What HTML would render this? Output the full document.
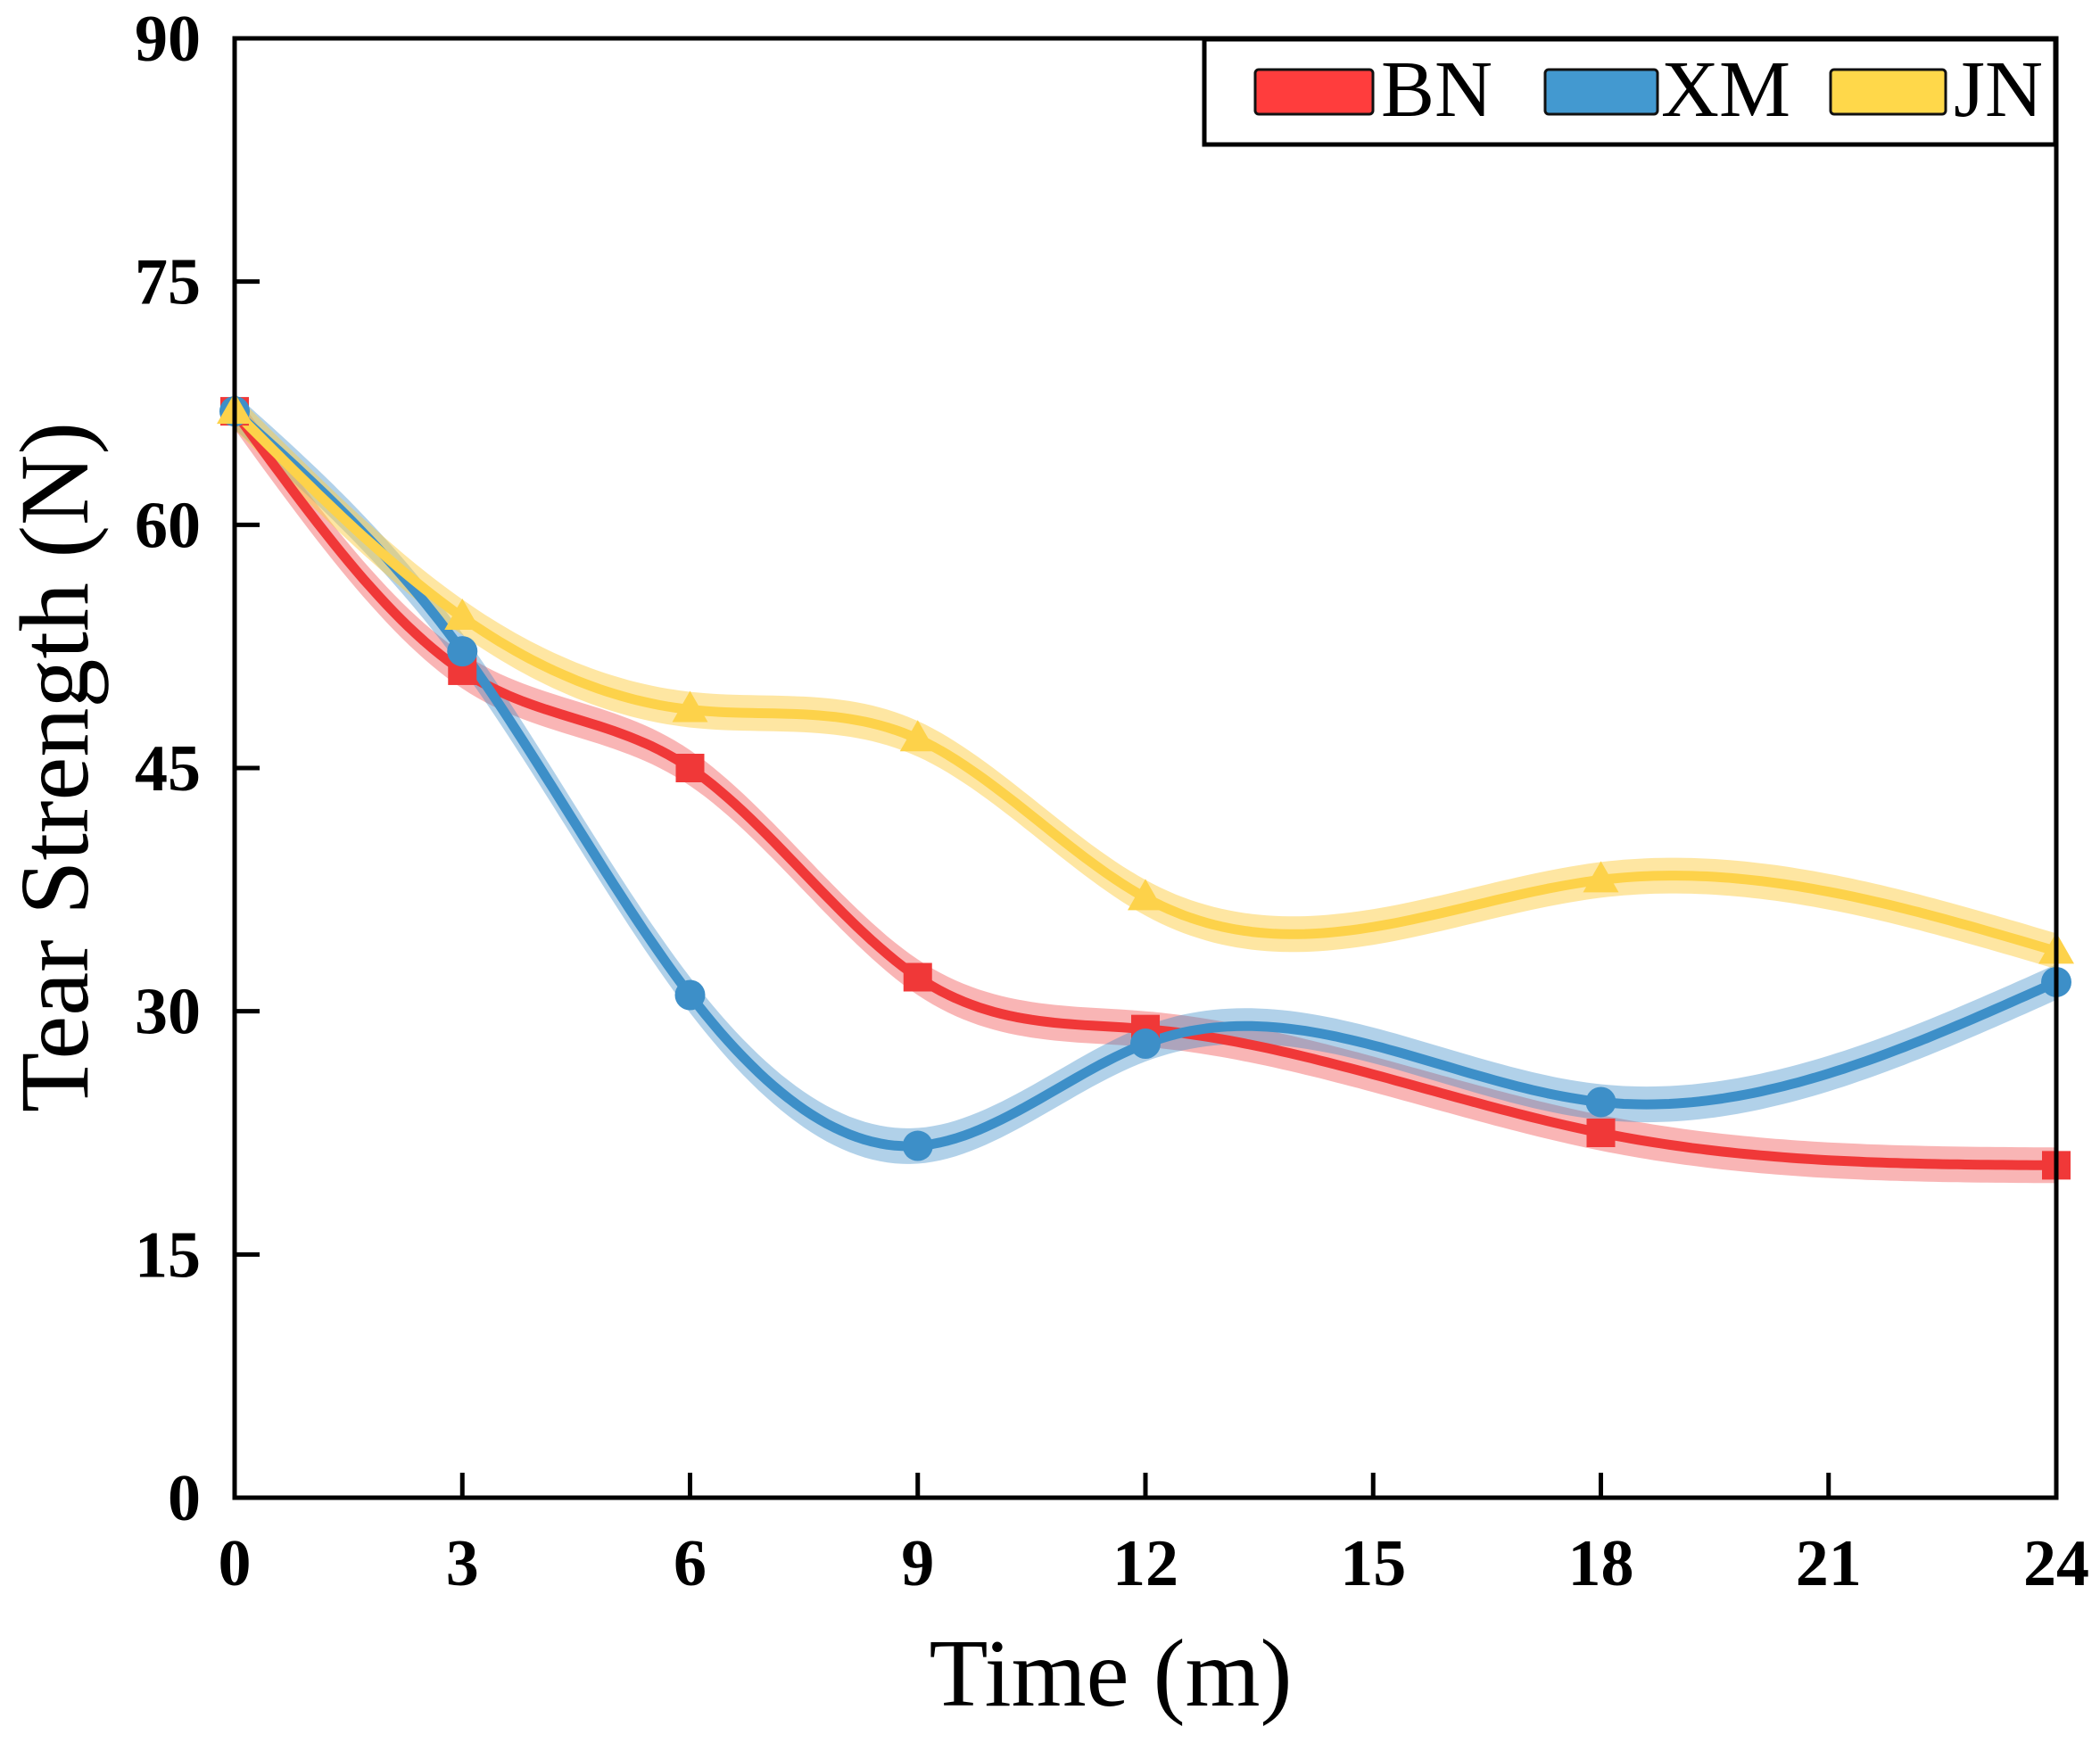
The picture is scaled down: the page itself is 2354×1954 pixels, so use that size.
<!DOCTYPE html>
<html><head><meta charset="utf-8"><style>
html,body{margin:0;padding:0;background:#fff}
svg{display:block}
text{font-family:"Liberation Serif",serif}
</style></head><body>
<svg id="chart" width="2354" height="1954" viewBox="0 0 2354 1954" xmlns="http://www.w3.org/2000/svg">
<g id="bands"></g>
<g id="lines"></g>
<g id="markers"></g>
<g id="axes"></g>
<g id="legend">
<rect x="1350" y="44" width="954" height="118" fill="#fff" stroke="#000" stroke-width="5"/>
<g><rect x="1407" y="78" width="132" height="50" rx="4" fill="#ff3d3d" stroke="#111" stroke-width="3"/><text x="1548" y="130" font-size="90">BN</text></g>
<g><rect x="1732" y="78" width="126" height="50" rx="4" fill="#4399d0" stroke="#111" stroke-width="3"/><text x="1862" y="130" font-size="90">XM</text></g>
<g><rect x="2052" y="78" width="129" height="50" rx="4" fill="#ffd84a" stroke="#111" stroke-width="3"/><text x="2190" y="130" font-size="90">JN</text></g>
</g>
<text x="1245" y="1912" font-size="108" text-anchor="middle">Time (m)</text>
<text transform="translate(98,860) rotate(-90)" font-size="110" text-anchor="middle">Tear Strength (N)</text>
</svg>
<script>
const times = [0, 3, 6, 9, 12, 18, 24];
const bnValues = [67, 51, 45, 32.1, 28.9, 22.5, 20.5];
const xmValues = [67, 52.2, 31, 21.7, 28, 24.4, 31.8];
const jnValues = [67, 54.3, 48.6, 46.8, 37, 38.1, 33.7];
const xTicks = [0, 3, 6, 9, 12, 15, 18, 21, 24];
const yTicks = [0, 15, 30, 45, 60, 75, 90];

const L=263,R=2305,T=43,B=1679;
const sx=v=>L+(v-0)/(24-0)*(R-L);
const sy=v=>B-(v-0)/(90-0)*(B-T);
const NS='http://www.w3.org/2000/svg';
function mk(tag,attrs,parent){const e=document.createElementNS(NS,tag);for(const k in attrs)e.setAttribute(k,attrs[k]);parent.appendChild(e);return e;}

function spline(xs,ys){
  const n=xs.length,h=[],al=[],l=[1],mu=[0],z=[0],c=new Array(n).fill(0),b=[],d=[];
  for(let i=0;i<n-1;i++)h[i]=xs[i+1]-xs[i];
  for(let i=1;i<n-1;i++)al[i]=3/h[i]*(ys[i+1]-ys[i])-3/h[i-1]*(ys[i]-ys[i-1]);
  for(let i=1;i<n-1;i++){l[i]=2*(xs[i+1]-xs[i-1])-h[i-1]*mu[i-1];mu[i]=h[i]/l[i];z[i]=(al[i]-h[i-1]*z[i-1])/l[i];}
  l[n-1]=1;z[n-1]=0;
  for(let j=n-2;j>=0;j--){c[j]=z[j]-mu[j]*c[j+1];b[j]=(ys[j+1]-ys[j])/h[j]-h[j]*(c[j+1]+2*c[j])/3;d[j]=(c[j+1]-c[j])/(3*h[j]);}
  return x=>{let i=0;while(i<n-2&&x>xs[i+1])i++;const t=x-xs[i];return ys[i]+b[i]*t+c[i]*t*t+d[i]*t*t*t;};
}

const series=[
 {name:'bn',vals:bnValues,color:'#f03838',band:'rgba(240,70,70,0.4)',mk:'square'},
 {name:'xm',vals:xmValues,color:'#3d8fc8',band:'rgba(60,140,200,0.4)',mk:'circle'},
 {name:'jn',vals:jnValues,color:'#fdd24a',band:'rgba(253,205,70,0.5)',mk:'triangle'}
];
const bands=document.getElementById('bands'),lines=document.getElementById('lines'),marks=document.getElementById('markers');
series.forEach(s=>{
  const f=spline(times,s.vals);
  let up=[],dn=[],ln=[];
  for(let x=times[0];x<=times[times.length-1]+1e-9;x+=0.1){
    const v=f(x);ln.push(sx(x).toFixed(1)+','+sy(v).toFixed(1));
    up.push(sx(x).toFixed(1)+','+sy(v+1.1).toFixed(1));dn.unshift(sx(x).toFixed(1)+','+sy(v-1.1).toFixed(1));
  }
  const bp=mk('polygon',{points:up.concat(dn).join(' '),fill:s.band},bands);
  
  
  const pl=mk('polyline',{points:ln.join(' '),fill:'none',stroke:s.color,'stroke-width':11,'stroke-linejoin':'round'},lines);
  
  
  s.vals.forEach((v,i)=>{
    const cx=sx(times[i]),cy=sy(v);let m;
    if(s.mk==='square')m=mk('rect',{x:cx-16,y:cy-16,width:32,height:32,fill:s.color},marks);
    else if(s.mk==='circle')m=mk('circle',{cx:cx,cy:cy,r:17,fill:s.color},marks);
    else m=mk('polygon',{points:`${cx},${cy-21} ${cx-20},${cy+14} ${cx+20},${cy+14}`,fill:s.color},marks);
    
    
  });
});
const ax=document.getElementById('axes');
const fr=mk('rect',{x:L,y:T,width:R-L,height:B-T,fill:'none',stroke:'#000','stroke-width':5},ax);


xTicks.forEach(t=>{
  const x=sx(t);
  const tk=mk('line',{x1:x,y1:B,x2:x,y2:B-28,stroke:'#000','stroke-width':5},ax);
  
  
  const tx=mk('text',{x:x,y:B+98,'font-size':74,'font-weight':'bold','text-anchor':'middle'},ax);
  tx.textContent=t;
  
  
});
yTicks.forEach(t=>{
  const y=sy(t);
  const tk=mk('line',{x1:L,y1:y,x2:L+28,y2:y,stroke:'#000','stroke-width':5},ax);
  
  
  const tx=mk('text',{x:L-38,y:y+25,'font-size':74,'font-weight':'bold','text-anchor':'end'},ax);
  tx.textContent=t;
  
  
});
</script>
</body></html>
